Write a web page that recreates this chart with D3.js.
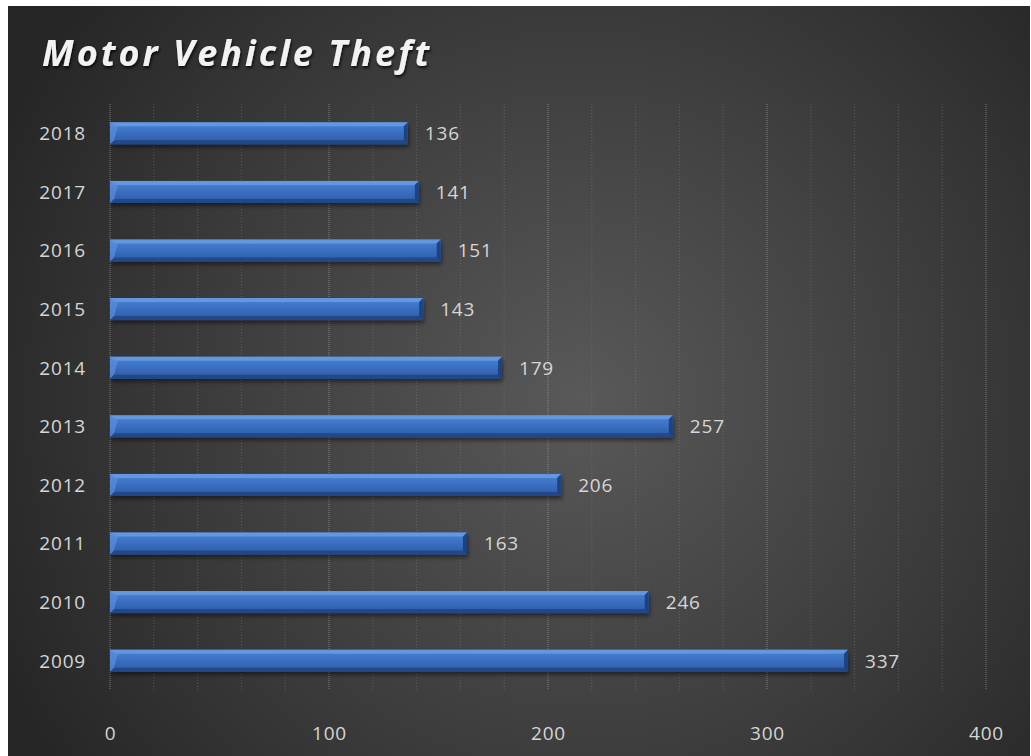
<!DOCTYPE html>
<html><head><meta charset="utf-8">
<script src="https://cdn.jsdelivr.net/npm/d3@7"></script>
<style>
html,body{margin:0;padding:0;background:#fff;}
svg{display:block;}
</style></head>
<body>
<svg id="chart" width="1031" height="756"></svg>
<script>
const years = ["2009","2010","2011","2012","2013","2014","2015","2016","2017","2018"];
const values = [337, 246, 163, 206, 257, 179, 143, 151, 141, 136];
const xTicks = [0, 100, 200, 300, 400];
const gridValues = d3.range(0, 401, 20);
const title = "Motor Vehicle Theft";

const svg = d3.select("#chart");
const defs = svg.append("defs");

const bg = defs.append("radialGradient").attr("id","bg")
  .attr("gradientUnits","userSpaceOnUse").attr("cx",580).attr("cy",400).attr("r",640);
bg.append("stop").attr("offset","0").attr("stop-color","#595959");
bg.append("stop").attr("offset","0.5").attr("stop-color","#404040");
bg.append("stop").attr("offset","1").attr("stop-color","#262626");

const bar = defs.append("linearGradient").attr("id","bar").attr("x1",0).attr("y1",0).attr("x2",0).attr("y2",1);
[["0","#4a7fd0"],["0.25","#4279cc"],["0.5","#3a6dc0"],["0.75","#3464b2"],["1","#2c579e"]]
  .forEach(([o,c])=>bar.append("stop").attr("offset",o).attr("stop-color",c));

const sh = defs.append("filter").attr("id","shadow").attr("x","-5%").attr("y","-50%").attr("width","110%").attr("height","250%");
sh.append("feGaussianBlur").attr("in","SourceAlpha").attr("stdDeviation",2);
sh.append("feOffset").attr("dx",1).attr("dy",3).attr("result","b");
sh.append("feComponentTransfer").append("feFuncA").attr("type","linear").attr("slope",0.5);
const m = sh.append("feMerge"); m.append("feMergeNode"); m.append("feMergeNode").attr("in","SourceGraphic");

const tsh = defs.append("filter").attr("id","tshadow").attr("x","-5%").attr("y","-30%").attr("width","110%").attr("height","160%");
tsh.append("feGaussianBlur").attr("in","SourceAlpha").attr("stdDeviation",1.5);
tsh.append("feOffset").attr("dx",1).attr("dy",2).attr("result","b");
tsh.append("feComponentTransfer").append("feFuncA").attr("type","linear").attr("slope",0.8);
const m2 = tsh.append("feMerge"); m2.append("feMergeNode"); m2.append("feMergeNode").attr("in","SourceGraphic");

svg.append("rect").attr("x",8).attr("y",6).attr("width",1022).attr("height",750).attr("fill","url(#bg)");

const x = d3.scaleLinear().domain([0,400]).range([110,986]);
const y = d3.scaleBand().domain(years.slice().reverse()).range([104,690]).paddingInner(0.625).paddingOuter(0.3125);

// gridlines
svg.append("g").selectAll("line").data(gridValues).join("line")
  .attr("x1",d=>x(d)).attr("x2",d=>x(d)).attr("y1",104).attr("y2",690)
  .attr("stroke",d=>d%100===0?"#9a9a9a":"#7c7c7c")
  .attr("stroke-opacity",d=>d%100===0?0.7:0.55)
  .attr("stroke-width",1)
  .attr("stroke-dasharray",d=>d%100===0?"1,1":"1,2");

// bars
const data = years.map((yr,i)=>({year:yr, value:values[i]}));
const g = svg.append("g").selectAll("g").data(data).join("g");
g.append("rect").attr("x",x(0)).attr("y",d=>y(d.year)).attr("width",d=>x(d.value)-x(0)).attr("height",y.bandwidth())
  .attr("fill","url(#bar)").attr("filter","url(#shadow)");
const b = 4;
function geom(d){return {x0:x(0), x1:x(d.value), y0:y(d.year), y1:y(d.year)+y.bandwidth()};}
// top bevel (light)
g.append("path").attr("d",d=>{const q=geom(d);
  return `M${q.x0},${q.y0}L${q.x1},${q.y0}L${q.x1-b},${q.y0+b}L${q.x0+b},${q.y0+b}Z`;}).attr("fill","#6a9de4").attr("opacity",0.8);
// bottom bevel (dark)
g.append("path").attr("d",d=>{const q=geom(d);
  return `M${q.x0},${q.y1}L${q.x1},${q.y1}L${q.x1-b},${q.y1-b}L${q.x0+b},${q.y1-b}Z`;}).attr("fill","#1f4483").attr("opacity",0.85);
// right bevel (dark)
g.append("path").attr("d",d=>{const q=geom(d);
  return `M${q.x1},${q.y0}L${q.x1},${q.y1}L${q.x1-b},${q.y1-b}L${q.x1-b},${q.y0+b}Z`;}).attr("fill","#1c3e7a").attr("opacity",0.9);
// left bevel (lighter)
g.append("path").attr("d",d=>{const q=geom(d);
  return `M${q.x0},${q.y0}L${q.x0+b+4},${q.y0+b}L${q.x0+b},${q.y1-b}L${q.x0},${q.y1}Z`;}).attr("fill","#5b8edb").attr("opacity",0.7);

// value labels
svg.append("g").selectAll("text").data(data).join("text")
  .attr("x",d=>x(d.value)+17).attr("y",d=>y(d.year)+y.bandwidth()/2)
  .attr("dy","0.36em").attr("letter-spacing",0.8)
  .attr("fill","#d6d6d6").attr("font-family","'Open Sans', sans-serif").attr("font-size",19)
  .text(d=>d.value);

// y axis labels
svg.append("g").selectAll("text").data(years).join("text")
  .attr("x",86).attr("y",d=>y(d)+y.bandwidth()/2).attr("dy","0.36em").attr("letter-spacing",0.8)
  .attr("text-anchor","end").attr("fill","#d6d6d6")
  .attr("font-family","'Open Sans', sans-serif").attr("font-size",19).text(d=>d);

// x axis
const xAxis = d3.axisBottom(x).tickValues(xTicks).tickSize(0).tickPadding(0);
const ax = svg.append("g").attr("transform","translate(0,733)").call(xAxis);
ax.select(".domain").remove();
ax.selectAll("text").attr("fill","#d6d6d6").attr("font-family","'Open Sans', sans-serif")
  .attr("font-size",19).attr("letter-spacing",0.8).attr("dy","0.36em");

// title
svg.append("text").attr("x",42).attr("y",66).attr("fill","#f2f2f2")
  .attr("font-family","'Open Sans', sans-serif").attr("font-weight","bold").attr("font-style","italic")
  .attr("font-size",36).attr("letter-spacing",3).attr("filter","url(#tshadow)").text(title);
</script>
</body></html>
